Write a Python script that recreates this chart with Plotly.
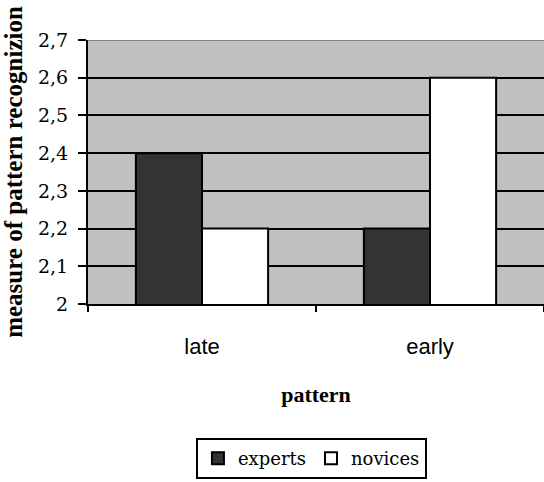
import plotly.graph_objects as go

# data
categories = ["late", "early"]
experts = [2.4, 2.2]
novices = [2.2, 2.6]
y_ticks = [2.0, 2.1, 2.2, 2.3, 2.4, 2.5, 2.6, 2.7]
y_tick_labels = ["2", "2,1", "2,2", "2,3", "2,4", "2,5", "2,6", "2,7"]

SERIF = "Liberation Serif"
SERIF_REG = "DejaVu Serif"
SANS = "Liberation Sans"

fig = go.Figure()
fig.add_trace(go.Bar(
    name="experts", x=categories, y=experts,
    marker=dict(color="#333333", line=dict(color="black", width=2)),
))
fig.add_trace(go.Bar(
    name="novices", x=categories, y=novices,
    marker=dict(color="white", line=dict(color="black", width=2)),
))

fig.update_layout(
    width=544, height=482,
    margin=dict(l=88, r=0, t=40, b=178),
    font=dict(family=SERIF, size=22, color="black"),
    paper_bgcolor="white",
    plot_bgcolor="#c0c0c0",
    barmode="group",
    bargap=0.42,
    bargroupgap=0,
    showlegend=True,
    legend=dict(
        orientation="h",
        x=0.49, xanchor="center",
        y=-0.508, yanchor="top",
        bgcolor="white",
        bordercolor="black",
        borderwidth=2,
        font=dict(family=SERIF_REG, size=18, color="black"),
        itemwidth=30,
    ),
    xaxis=dict(
        range=[-0.5, 1.5],
        showline=True, linecolor="black", linewidth=2,
        ticks="outside", tickson="boundaries", ticklen=6, tickwidth=2, tickcolor="black",
        tickfont=dict(family=SANS, size=22, color="black"),
        ticklabelstandoff=22,
        showgrid=False,
        title=dict(text="<b>pattern</b>", font=dict(family=SERIF, size=22, color="black"), standoff=28),
    ),
    yaxis=dict(
        range=[2.0, 2.7],
        tickvals=y_ticks, ticktext=y_tick_labels,
        showline=True, linecolor="black", linewidth=2,
        ticks="outside", ticklen=8, tickwidth=2, tickcolor="black",
        tickfont=dict(family=SERIF_REG, size=19, color="black"),
        ticklabelstandoff=6,
        showgrid=True, gridcolor="black", gridwidth=2,
        title=dict(text="<b>measure of pattern recognizion</b>",
                   font=dict(family=SERIF, size=25, color="black"), standoff=16),
    ),
)

# top border of the plot area drawn in grey
fig.add_shape(type="line", xref="paper", yref="y", x0=0, x1=1, y0=y_ticks[-1], y1=y_ticks[-1],
              line=dict(color="#808080", width=2), layer="above")

fig.write_html("out.html")
